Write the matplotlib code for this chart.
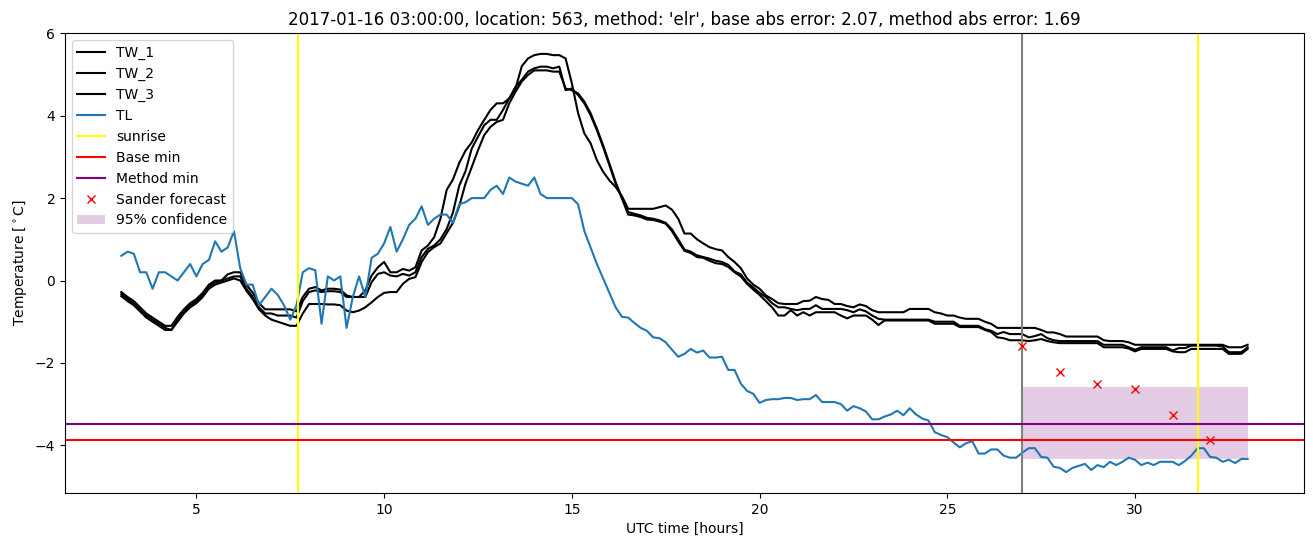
import numpy as np
import matplotlib
matplotlib.use("Agg")
import matplotlib.pyplot as plt

# time axis: 10-minute samples from 03:00 to 33:00 (hours since 2017-01-16 00:00 UTC)
hours = np.round(np.arange(3.0, 33.0 + 1e-9, 1.0 / 6.0), 4)

TL = [
    0.60, 0.70, 0.65, 0.20, 0.20, -0.20,
    0.20, 0.20, 0.10, 0.00, 0.20, 0.40,
    0.10, 0.40, 0.50, 0.95, 0.70, 0.80,
    1.20, 0.30, -0.10, -0.10, -0.60, -0.40,
    -0.20, -0.35, -0.60, -0.95, -0.60, 0.20,
    0.30, 0.25, -1.05, 0.10, 0.00, 0.10,
    -1.15, -0.40, 0.10, -0.40, 0.55, 0.65,
    0.90, 1.30, 0.70, 1.00, 1.35, 1.50,
    1.80, 1.35, 1.50, 1.60, 1.60, 1.40,
    1.85, 1.90, 2.00, 2.00, 2.00, 2.20,
    2.30, 2.10, 2.50, 2.40, 2.35, 2.30,
    2.50, 2.10, 2.00, 2.00, 2.00, 2.00,
    2.00, 1.85, 1.20, 0.80, 0.40, 0.05,
    -0.30, -0.65, -0.88, -0.90, -1.03, -1.15,
    -1.22, -1.38, -1.40, -1.50, -1.68, -1.85,
    -1.78, -1.66, -1.75, -1.70, -1.87, -1.87,
    -1.85, -2.17, -2.17, -2.50, -2.68, -2.75,
    -2.97, -2.90, -2.88, -2.88, -2.85, -2.85,
    -2.90, -2.88, -2.88, -2.78, -2.95, -2.95,
    -2.95, -3.00, -3.16, -3.05, -3.10, -3.18,
    -3.37, -3.37, -3.30, -3.25, -3.16, -3.27,
    -3.10, -3.25, -3.35, -3.40, -3.68, -3.75,
    -3.80, -3.93, -4.05, -3.95, -3.90, -4.20,
    -4.20, -4.10, -4.10, -4.25, -4.30, -4.30,
    -4.18, -4.07, -4.07, -4.28, -4.30, -4.52,
    -4.55, -4.65, -4.55, -4.50, -4.45, -4.60,
    -4.48, -4.53, -4.40, -4.48, -4.40, -4.30,
    -4.35, -4.48, -4.42, -4.48, -4.40, -4.40,
    -4.40, -4.48, -4.38, -4.25, -4.07, -4.07,
    -4.28, -4.30, -4.40, -4.35, -4.43, -4.33,
    -4.33,
]

TW_1 = [
    -0.28, -0.40, -0.50, -0.65, -0.80, -0.90,
    -1.00, -1.10, -1.10, -0.88, -0.70, -0.55,
    -0.45, -0.30, -0.10, 0.00, 0.00, 0.15,
    0.20, 0.20, -0.10, -0.30, -0.55, -0.70,
    -0.70, -0.70, -0.70, -0.70, -0.75, -0.40,
    -0.20, -0.16, -0.24, -0.20, -0.20, -0.22,
    -0.36, -0.40, -0.40, -0.24, 0.12, 0.32,
    0.45, 0.20, 0.20, 0.28, 0.24, 0.32,
    0.73, 0.85, 1.05, 1.50, 2.20, 2.45,
    2.85, 3.15, 3.35, 3.65, 3.90, 4.14,
    4.30, 4.30, 4.42, 4.66, 5.20, 5.39,
    5.47, 5.50, 5.50, 5.47, 5.47, 5.39,
    4.79, 4.06, 3.57, 3.33, 2.92, 2.64,
    2.43, 2.27, 2.05, 1.74, 1.74, 1.74,
    1.74, 1.74, 1.78, 1.82, 1.72, 1.50,
    1.14, 1.14, 1.00, 0.90, 0.81, 0.76,
    0.73, 0.57, 0.45, 0.30, 0.05, -0.10,
    -0.20, -0.36, -0.45, -0.55, -0.57, -0.57,
    -0.57, -0.50, -0.49, -0.40, -0.45, -0.47,
    -0.57, -0.57, -0.62, -0.65, -0.58, -0.62,
    -0.72, -0.77, -0.77, -0.77, -0.77, -0.77,
    -0.69, -0.69, -0.69, -0.69, -0.77, -0.80,
    -0.85, -0.85, -0.90, -0.93, -0.93, -0.93,
    -1.00, -1.05, -1.15, -1.15, -1.15, -1.15,
    -1.15, -1.15, -1.15, -1.20, -1.26, -1.26,
    -1.30, -1.36, -1.36, -1.36, -1.36, -1.36,
    -1.36, -1.45, -1.47, -1.47, -1.47, -1.50,
    -1.56, -1.56, -1.56, -1.56, -1.56, -1.56,
    -1.56, -1.56, -1.56, -1.56, -1.56, -1.56,
    -1.56, -1.56, -1.56, -1.62, -1.62, -1.62,
    -1.56,
]

TW_2 = [
    -0.33, -0.45, -0.55, -0.70, -0.85, -0.95,
    -1.05, -1.15, -1.20, -0.95, -0.75, -0.60,
    -0.50, -0.35, -0.15, -0.05, 0.00, 0.05,
    0.10, 0.10, -0.20, -0.40, -0.65, -0.80,
    -0.80, -0.85, -0.85, -0.85, -0.90, -0.50,
    -0.28, -0.24, -0.28, -0.26, -0.26, -0.28,
    -0.40, -0.40, -0.40, -0.40, -0.04, 0.16,
    0.20, 0.12, 0.10, 0.16, 0.12, 0.20,
    0.57, 0.77, 0.85, 1.00, 1.25, 1.65,
    2.30, 2.65, 3.20, 3.49, 3.77, 3.90,
    3.90, 4.14, 4.42, 4.70, 4.87, 5.07,
    5.15, 5.19, 5.19, 5.15, 5.19, 4.62,
    4.66, 4.50, 4.30, 4.01, 3.65, 3.24,
    2.80, 2.35, 2.00, 1.66, 1.62, 1.58,
    1.52, 1.50, 1.46, 1.40, 1.24, 1.00,
    0.75, 0.70, 0.61, 0.57, 0.53, 0.48,
    0.45, 0.38, 0.22, 0.15, -0.05, -0.17,
    -0.30, -0.40, -0.55, -0.65, -0.65, -0.69,
    -0.72, -0.69, -0.69, -0.60, -0.69, -0.69,
    -0.69, -0.69, -0.72, -0.77, -0.70, -0.75,
    -0.85, -0.93, -0.95, -0.95, -0.95, -0.95,
    -0.95, -0.95, -0.95, -0.95, -1.00, -1.00,
    -1.00, -1.00, -1.10, -1.10, -1.10, -1.10,
    -1.18, -1.22, -1.30, -1.25, -1.30, -1.30,
    -1.30, -1.38, -1.35, -1.30, -1.40, -1.45,
    -1.47, -1.47, -1.47, -1.47, -1.47, -1.47,
    -1.47, -1.56, -1.56, -1.56, -1.56, -1.62,
    -1.68, -1.62, -1.62, -1.62, -1.62, -1.62,
    -1.70, -1.64, -1.64, -1.58, -1.58, -1.58,
    -1.58, -1.58, -1.60, -1.74, -1.74, -1.74,
    -1.62,
]

TW_3 = [
    -0.38, -0.50, -0.60, -0.75, -0.90, -1.00,
    -1.10, -1.20, -1.20, -1.00, -0.80, -0.65,
    -0.55, -0.40, -0.20, -0.10, -0.05, 0.00,
    0.05, 0.00, -0.25, -0.45, -0.70, -0.85,
    -0.95, -1.00, -1.05, -1.10, -1.10, -0.80,
    -0.57, -0.57, -0.57, -0.58, -0.58, -0.60,
    -0.73, -0.77, -0.73, -0.65, -0.53, -0.40,
    -0.30, -0.28, -0.28, -0.08, 0.04, 0.08,
    0.45, 0.69, 0.81, 0.90, 1.15, 1.40,
    1.80, 2.35, 2.75, 3.16, 3.53, 3.73,
    3.85, 3.90, 4.30, 4.58, 4.83, 4.99,
    5.10, 5.10, 5.10, 5.07, 5.07, 4.66,
    4.62, 4.54, 4.34, 4.06, 3.69, 3.28,
    2.84, 2.39, 2.00, 1.60, 1.58, 1.54,
    1.48, 1.47, 1.43, 1.38, 1.20, 0.95,
    0.72, 0.67, 0.57, 0.55, 0.48, 0.42,
    0.40, 0.33, 0.20, 0.10, -0.08, -0.22,
    -0.35, -0.50, -0.65, -0.85, -0.85, -0.72,
    -0.85, -0.77, -0.85, -0.77, -0.77, -0.77,
    -0.77, -0.85, -0.92, -0.85, -0.85, -0.85,
    -0.95, -1.08, -0.97, -0.97, -0.97, -0.97,
    -0.97, -0.97, -0.97, -0.97, -1.05, -1.05,
    -1.05, -1.05, -1.13, -1.13, -1.13, -1.13,
    -1.20, -1.25, -1.38, -1.40, -1.45, -1.45,
    -1.45, -1.47, -1.45, -1.42, -1.47, -1.50,
    -1.52, -1.52, -1.52, -1.52, -1.52, -1.52,
    -1.52, -1.62, -1.62, -1.62, -1.62, -1.65,
    -1.72, -1.66, -1.66, -1.66, -1.66, -1.66,
    -1.72, -1.74, -1.74, -1.66, -1.66, -1.66,
    -1.66, -1.66, -1.66, -1.78, -1.78, -1.78,
    -1.66,
]

sunrise_hours = [7.71, 31.68]
forecast_start = 27.0
base_min = -3.86
method_min = -3.48
sander_hours = [27, 28, 29, 30, 31, 32]
sander_values = [-1.58, -2.21, -2.51, -2.64, -3.26, -3.86]
conf_hours = [27.0, 33.0]
conf_low = -4.34
conf_high = -2.58

title = ("2017-01-16 03:00:00, location: 563, method: 'elr', "
         "base abs error: 2.07, method abs error: 1.69")

fig = plt.figure(figsize=(13.13, 5.47), dpi=100)
ax = fig.add_axes([0.0495, 0.0987, 0.9436, 0.841])

ax.plot(hours, TW_1, color="black", label="TW_1")
ax.plot(hours, TW_2, color="black", label="TW_2")
ax.plot(hours, TW_3, color="black", label="TW_3")
ax.plot(hours, TL, color="tab:blue", label="TL")
for i, s in enumerate(sunrise_hours):
    ax.axvline(s, color="yellow", label="sunrise" if i == 0 else None)
ax.axvline(forecast_start, color="gray")
ax.axhline(base_min, color="red", label="Base min")
ax.axhline(method_min, color="purple", label="Method min")
ax.plot(sander_hours, sander_values, "x", color="red", label="Sander forecast")
ax.fill_between(conf_hours, conf_low, conf_high, color="purple", alpha=0.2,
                linewidth=0, label="95% confidence")

ax.set_title(title)
ax.set_xlabel("UTC time [hours]")
ax.set_ylabel(r"Temperature [$^\circ$C]")
ax.legend(loc="upper left")

fig.savefig("out.png", dpi=100)
